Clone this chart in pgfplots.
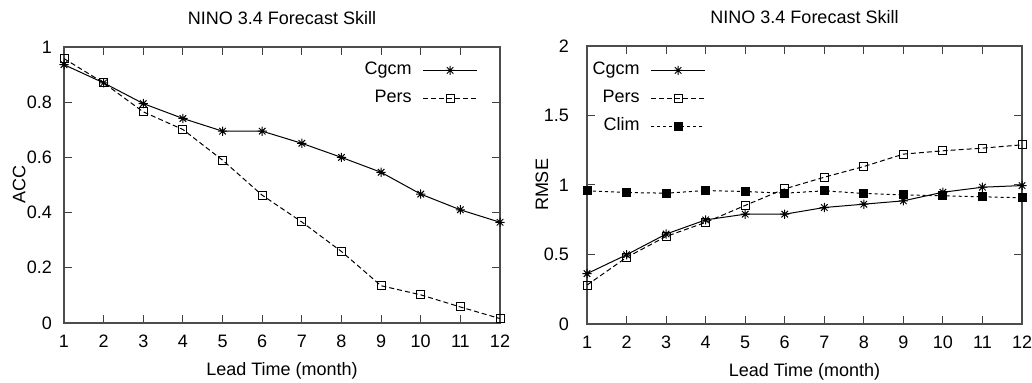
\documentclass[border=0pt]{standalone}
\usepackage{fontspec}
\setmainfont{Liberation Sans}
\usepackage{pgfplots}
\pgfplotsset{compat=1.18}
\pgfdeclareplotmark{gpstar}{%
 \pgfpathmoveto{\pgfqpoint{-\pgfplotmarksize}{0pt}}\pgfpathlineto{\pgfqpoint{\pgfplotmarksize}{0pt}}%
 \pgfpathmoveto{\pgfqpoint{0pt}{-\pgfplotmarksize}}\pgfpathlineto{\pgfqpoint{0pt}{\pgfplotmarksize}}%
 \pgfpathmoveto{\pgfqpoint{-0.707\pgfplotmarksize}{-0.707\pgfplotmarksize}}\pgfpathlineto{\pgfqpoint{0.707\pgfplotmarksize}{0.707\pgfplotmarksize}}%
 \pgfpathmoveto{\pgfqpoint{-0.707\pgfplotmarksize}{0.707\pgfplotmarksize}}\pgfpathlineto{\pgfqpoint{0.707\pgfplotmarksize}{-0.707\pgfplotmarksize}}%
 \pgfusepathqstroke}
\pgfplotsset{
 gp/.style={
  scale only axis, anchor=south west,
  xmin=1, xmax=12, xtick={1,2,...,12},
  tick align=inside, major tick length=4pt,
  tick style={black!75, line width=0.5pt},
  axis line style={black!70, line width=0.6pt},
  /pgf/number format/assume math mode=true,
  every axis title shift=0pt,
  title style={anchor=base, at={(0.5,1)}, yshift=11pt},
  xlabel style={at={(0.5,0)}, anchor=base, yshift=-26.5pt},
  xticklabel style={anchor=base, yshift=-12.5pt},
  yticklabel style={/pgf/number format/fixed, anchor=east, xshift=-2.5pt},
  clip=false,
  legend plot pos=right,
  legend cell align=right,
  legend image code/.code={\draw[mark repeat=2,mark phase=2,##1] plot coordinates {(0pt,0pt) (13.5pt,0pt) (27pt,0pt)};},
  legend style={draw=none, fill=none, inner sep=0pt, row sep=0pt, column sep=5.5pt,
    nodes={inner xsep=0pt, inner ysep=2.8pt, text height=6.5pt, text depth=1.9pt}},
 },
 cg/.style={black, line width=0.5pt, mark=gpstar, mark size=2.3pt},
 pe/.style={black, line width=0.5pt, dash pattern=on 2.5pt off 1.5pt, mark=square, mark size=2pt, mark options={solid, fill=white}},
 cl/.style={black, line width=0.5pt, dash pattern=on 1.5pt off 1.5pt, mark=square*, mark size=2pt, mark options={solid}},
}
\begin{document}
\begin{tikzpicture}[font=\fontsize{9}{10.8}\selectfont]
\path[use as bounding box] (0,0) rectangle (516pt,191.5pt);
\begin{axis}[gp, at={(32pt,30pt)}, width=218pt, height=138pt,
  ymin=0, ymax=1, ytick={0,0.2,0.4,0.6,0.8,1},
  title={NINO 3.4 Forecast Skill}, xlabel={Lead Time (month)}, ylabel={ACC},
  ylabel style={at={(axis description cs:-0.103,0.5)}, anchor=center},
  legend style={at={(rel axis cs:1,1)}, anchor=north east, xshift=-11pt, yshift=-4.5pt}]
\addplot[cg] coordinates {(1,0.936) (2,0.870) (3,0.795) (4,0.741) (5,0.695) (6,0.695) (7,0.651) (8,0.600) (9,0.546) (10,0.467) (11,0.410) (12,0.365)};
\addlegendentry{Cgcm}
\addplot[pe] coordinates {(1,0.958) (2,0.870) (3,0.765) (4,0.701) (5,0.590) (6,0.463) (7,0.366) (8,0.259) (9,0.135) (10,0.102) (11,0.058) (12,0.016)};
\addlegendentry{Pers}
\end{axis}
\begin{axis}[gp, at={(293.5pt,29.5pt)}, width=217.5pt, height=139pt,
  ymin=0, ymax=2, ytick={0,0.5,1,1.5,2},
  yticklabel style={xshift=-3pt},
  title={NINO 3.4 Forecast Skill}, xlabel={Lead Time (month)}, ylabel={RMSE},
  ylabel style={at={(axis description cs:-0.1034,0.5)}, anchor=center},
  legend style={at={(rel axis cs:0,1)}, anchor=north east, xshift=59.5pt, yshift=-5pt}]
\addplot[cg] coordinates {(1,0.362) (2,0.498) (3,0.647) (4,0.749) (5,0.790) (6,0.790) (7,0.838) (8,0.862) (9,0.886) (10,0.948) (11,0.984) (12,0.996)};
\addlegendentry{Cgcm}
\addplot[pe] coordinates {(1,0.280) (2,0.479) (3,0.630) (4,0.731) (5,0.853) (6,0.972) (7,1.056) (8,1.133) (9,1.222) (10,1.246) (11,1.265) (12,1.289)};
\addlegendentry{Pers}
\addplot[cl] coordinates {(1,0.958) (2,0.946) (3,0.941) (4,0.960) (5,0.953) (6,0.941) (7,0.958) (8,0.939) (9,0.929) (10,0.922) (11,0.915) (12,0.908)};
\addlegendentry{Clim}
\end{axis}
\end{tikzpicture}
\end{document}
